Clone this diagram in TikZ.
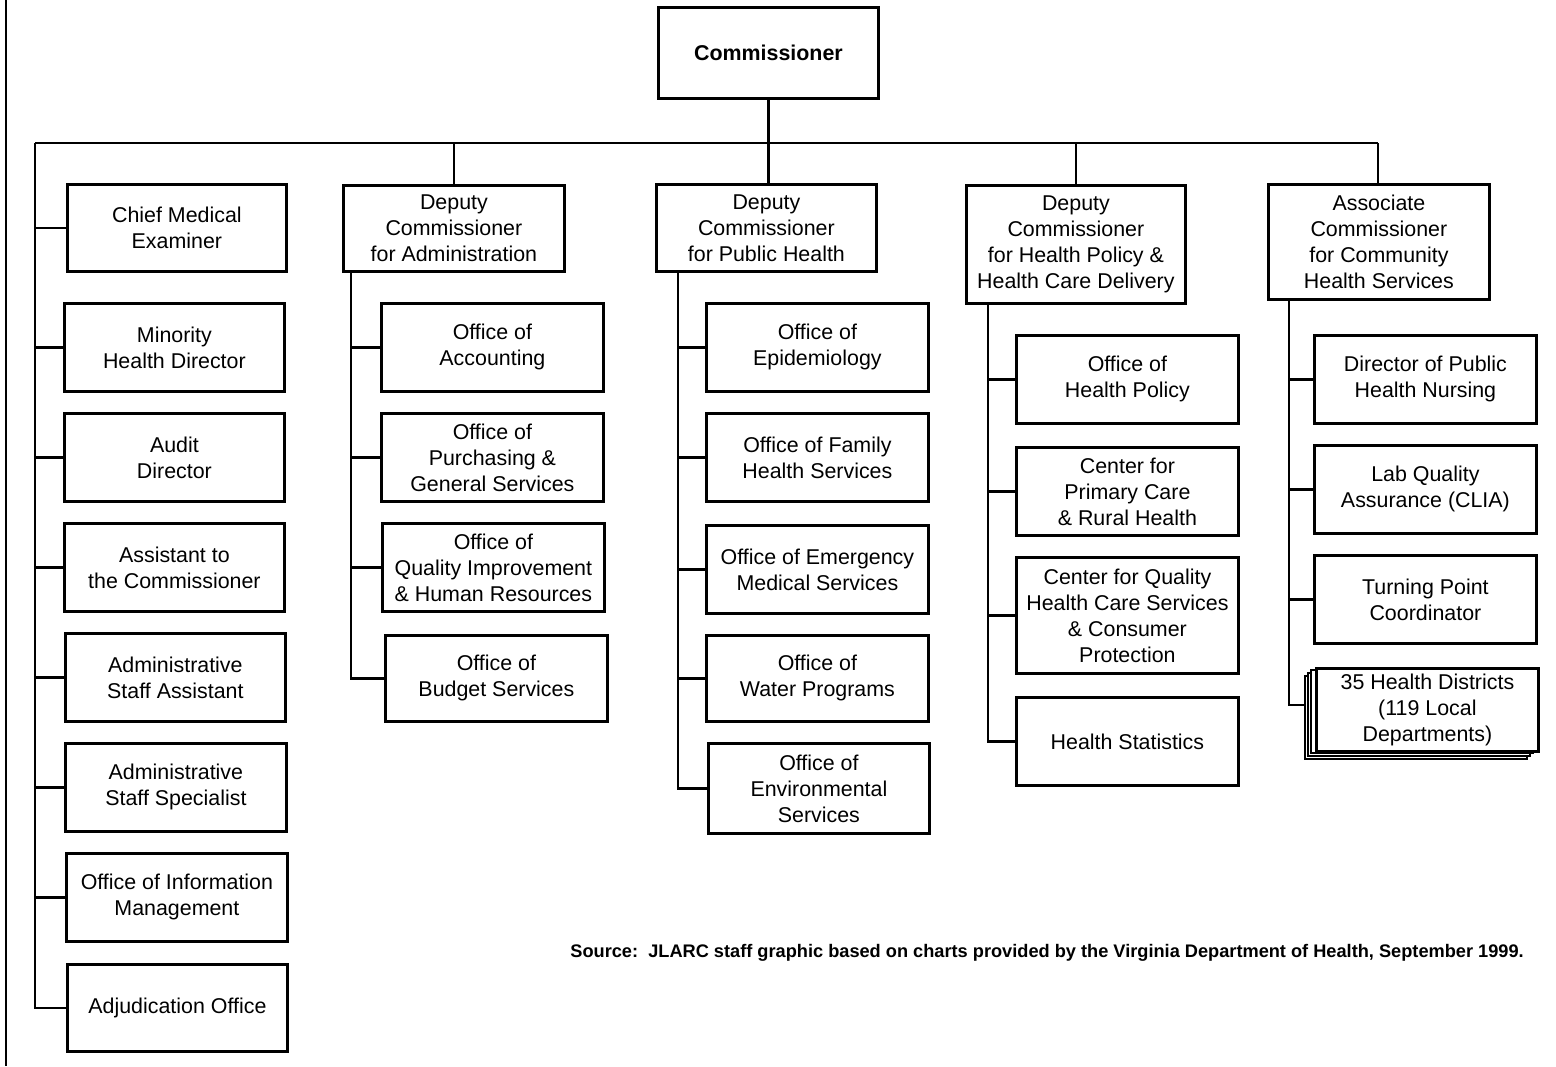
\documentclass[tikz,border=0pt]{standalone}
\usepackage{fontspec}
\setmainfont{Liberation Sans}
\newcommand\orgbox[6]{\node[box, minimum width={(#4-#2)*0.5pt}, minimum height={(#5-#3)*0.5pt}] (#1) at (#2,#3) {#6};}
\begin{document}
\begin{tikzpicture}[x=0.5pt,y=-0.5pt,
  box/.style={draw, line width=1.4pt, fill=white, align=center, inner sep=0pt,
    font=\fontsize{10.7}{13}\selectfont, anchor=north west},
  link/.style={line width=1.4pt},
  shadowbox/.style={draw, line width=1pt, fill=white}]
\useasboundingbox (0,0) rectangle (1556,1066);
% scan border
\draw[line width=1.4pt] (6,0) -- (6,1066);

% top
\orgbox{comm}{657}{6}{877}{97}{\bfseries Commissioner}
\orgbox{dadm}{342}{184}{563}{270}{Deputy\\Commissioner\\for Administration}
\orgbox{dph}{655}{183}{875}{270}{Deputy\\Commissioner\\for Public Health}
\orgbox{dhp}{965}{184}{1184}{302}{Deputy\\Commissioner\\for Health Policy \&\\Health Care Delivery}
\orgbox{assoc}{1267}{183}{1488}{298}{Associate\\Commissioner\\for Community\\Health Services}

% left column
\orgbox{cme}{66}{183}{285}{270}{Chief Medical\\Examiner}
\orgbox{mhd}{63}{302}{283}{390}{Minority\\Health Director}
\orgbox{aud}{63}{412}{283}{500}{Audit\\Director}
\orgbox{asst}{63}{522}{283}{610}{Assistant to\\the Commissioner}
\orgbox{asa}{64}{632}{284}{720}{Administrative\\Staff Assistant}
\orgbox{ass}{64}{742}{285}{830}{Administrative\\Staff Specialist}
\orgbox{oim}{65}{852}{286}{940}{Office of Information\\Management}
\orgbox{adj}{66}{963}{286}{1050}{Adjudication Office}

% administration column
\orgbox{acc}{380}{302}{602}{390}{Office of\\Accounting}
\orgbox{pur}{380}{412}{602}{500}{Office of\\Purchasing \&\\General Services}
\orgbox{qih}{381}{522}{603}{610}{Office of\\Quality Improvement\\\& Human Resources}
\orgbox{bud}{384}{634}{606}{720}{Office of\\Budget Services}

% public health column
\orgbox{epi}{705}{302}{927}{390}{Office of\\Epidemiology}
\orgbox{fam}{705}{412}{927}{500}{Office of Family\\Health Services}
\orgbox{ems}{705}{524}{927}{612}{Office of Emergency\\Medical Services}
\orgbox{wat}{705}{634}{927}{720}{Office of\\Water Programs}
\orgbox{env}{707}{742}{928}{832}{Office of\\Environmental\\Services}

% health policy column
\orgbox{ohp}{1015}{334}{1237}{422}{Office of\\Health Policy}
\orgbox{cpc}{1015}{446}{1237}{534}{Center for\\Primary Care\\\& Rural Health}
\orgbox{cqh}{1015}{556}{1237}{672}{Center for Quality\\Health Care Services\\\& Consumer\\Protection}
\orgbox{hst}{1015}{696}{1237}{784}{Health Statistics}

% associate column
\orgbox{dpn}{1313}{334}{1535}{422}{Director of Public\\Health Nursing}
\orgbox{lab}{1313}{444}{1535}{532}{Lab Quality\\Assurance (CLIA)}
\orgbox{tpc}{1313}{554}{1535}{642}{Turning Point\\Coordinator}
\draw[shadowbox] (1305,676) rectangle (1527,759);
\draw[shadowbox] (1308,673) rectangle (1530,756);
\draw[shadowbox] (1311,670) rectangle (1533,753);
\orgbox{hd}{1315}{667}{1537}{750}{35 Health Districts\\(119 Local\\Departments)}

% bus
\coordinate (busL) at (35,143);
\coordinate (busR) at (1378,143);
\draw[link] (busL) -- (busR);
\draw[link] (comm.south) -- (comm.south |- dph.north);
\draw[link] (dadm.north |- busL) -- (dadm.north);
\draw[link] (dhp.north |- busL) -- (dhp.north);
\draw[link] (busR) -- (assoc.north -| busR);

% left column links
\draw[link] (busL) |- (adj.west);
\foreach \n in {cme,mhd,aud,asst,asa,ass,oim}
  \draw[link] (busL |- \n.west) -- (\n.west);

% administration links
\coordinate (ta) at (351,270);
\draw[link] (ta) |- (bud.west);
\foreach \n in {acc,pur,qih}
  \draw[link] (ta |- \n.west) -- (\n.west);

% public health links
\coordinate (tp) at (678,270);
\draw[link] (tp) |- (env.west);
\foreach \n in {epi,fam,ems,wat}
  \draw[link] (tp |- \n.west) -- (\n.west);

% health policy links
\coordinate (th) at (988,302);
\draw[link] (th) |- (hst.west);
\foreach \n in {ohp,cpc,cqh}
  \draw[link] (th |- \n.west) -- (\n.west);

% associate links
\coordinate (tc) at (1289,298);
\draw[link] (tc) |- (1305,705) coordinate (hdin);
\foreach \n in {dpn,lab,tpc}
  \draw[link] (tc |- \n.west) -- (\n.west);

% source
\node[anchor=base west, inner sep=0pt, font=\bfseries\fontsize{9.1}{10}\selectfont] (src) at (570,957)
  {Source:\ \ JLARC staff graphic based on charts provided by the Virginia Department of Health, September 1999.};
\end{tikzpicture}
\end{document}
